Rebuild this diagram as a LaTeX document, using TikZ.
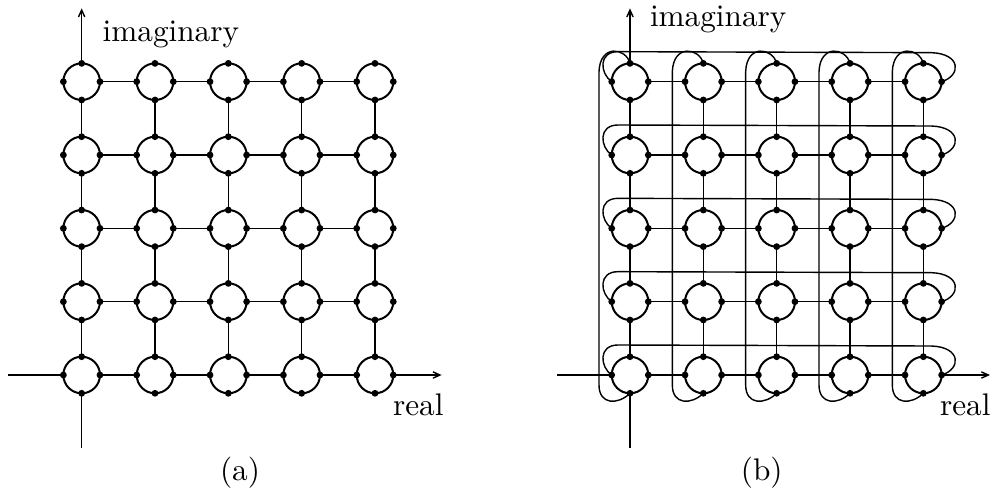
\documentclass[tikz,border=0pt]{standalone}
\usetikzlibrary{arrows.meta,calc}
\begin{document}
\begin{tikzpicture}[x=0.32pt,y=-0.32pt,
  ring/.style={circle,draw,line width=0.64pt,minimum size=11.71pt,inner sep=0pt,outer sep=0pt},
  link/.style={line width=0.48pt},
  wrap/.style={line width=0.45pt},
  axisline/.style={line width=0.45pt},
  arr/.style={-{Straight Barb[length=2.2pt,width=2pt,line width=0.45pt]}},
  lbl/.style={inner sep=0pt,outer sep=0pt}]
\useasboundingbox (0,0) rectangle (993,497);

\foreach \p/\ox in {a/81.667,b/630}{
  \foreach \i in {0,...,4}{
    \foreach \j in {0,...,4}{
      \node[ring] (\p\i\j) at ({\ox+73.333*\i},{81.667+73.333*\j}) {};
    }
  }
  \foreach \i in {0,...,3}{
    \pgfmathtruncatemacro\k{\i+1}
    \foreach \j in {0,...,4}{
      \draw[link] (\p\i\j.east) -- (\p\k\j.west);
      \draw[link] (\p\j\i.south) -- (\p\j\k.north);
    }
  }
  % axes
  \coordinate (\p top) at ($(\p00.north)+(0,-55)$);
  \coordinate (\p bot) at ($(\p04.south)+(0,55)$);
  \coordinate (\p lft) at ($(\p04.west)+(-55,0)$);
  \coordinate (\p rgt) at ($(\p44.east)+(48.3,0)$);
  \draw[axisline,arr] (\p00.north) -- (\p top);
  \draw[axisline] (\p04.south) -- (\p bot);
  \draw[axisline] (\p04.west) -- (\p lft);
  \draw[axisline,arr] (\p44.east) -- (\p rgt);
}

% wrap-around loops in (b)
\foreach \j in {0,...,4}{
  \draw[wrap] (b0\j.west) .. controls ($(b0\j)+(-30,-8)$) and ($(b0\j)+(-32,-30)$) .. ($(b0\j)+(-12,-30)$)
     -- ($(b4\j)+(8,-29)$) .. controls ($(b4\j)+(38,-28)$) and ($(b4\j)+(38,-6)$) .. (b4\j.east);
}
\foreach \i in {0,...,4}{
  \draw[wrap] (b\i0.north) .. controls ($(b\i0)+(-4,-34)$) and ($(b\i0)+(-30,-38)$) .. ($(b\i0)+(-31,-10)$)
     -- ($(b\i4)+(-31,10)$) .. controls ($(b\i4)+(-31,30)$) and ($(b\i4)+(-12,30)$) .. (b\i4.south);
}

% dots
\foreach \p in {a,b}{
  \foreach \i in {0,...,4}{
    \foreach \j in {0,...,4}{
      \foreach \an in {north,south,east,west}{
        \fill (\p\i\j.\an) circle (3.4);
      }
    }
  }
}

% labels
\node[lbl,anchor=base west] (ima) at (102.7,41.7) {imaginary};
\node[lbl,anchor=base west] (rea) at (393,415) {real};
\node[lbl,anchor=base west] (imb) at (650,26.7) {imaginary};
\node[lbl,anchor=base west] (reb) at (940,415) {real};
\node[lbl,anchor=base] (capa) at (240,480) {(a)};
\node[lbl,anchor=base] (capb) at (761.7,480) {(b)};
\end{tikzpicture}
\end{document}
